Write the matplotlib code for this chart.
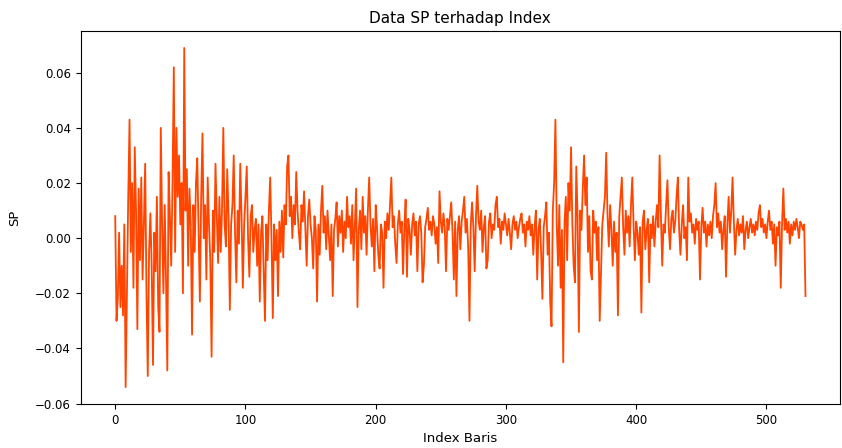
import numpy as np
import matplotlib
matplotlib.use("Agg")
import matplotlib.pyplot as plt

# Nilai SP per baris (dalam satuan 1e-3), dikelompokkan per blok indeks
sp_000_079 = [8, -30, -22, 2, -25, -10, -28, 5, -54, -20,
              15, 43, -5, 20, -18, 33, 10, -33, 18, -8,
              22, -15, 5, 27, -20, -50, -5, 9, -10, -46,
              2, -12, 15, -25, -34, 40, 5, -20, 12, -15,
              -48, 24, 8, -10, 20, 62, -5, 40, 15, 30,
              5, 20, -20, 69, 10, 25, -10, 18, 5, -35,
              12, -5, 20, 29, 2, -23, 15, 38, 0, 12,
              -15, 22, 5, -8, -43, 10, -5, 27, 8, -9]
sp_080_179 = [15, -5, 10, 40, 5, -3, 25, 8, -26, 5,
              12, 30, 2, -16, 10, -2, 27, 8, -18, 5,
              15, 26, 0, -14, 8, 12, -5, 3, 7, -10,
              5, -23, 2, 8, -12, -30, 5, -8, 10, 22,
              0, -29, 5, -8, 3, -21, 6, -5, 10, -7,
              12, 5, 26, 30, 8, 15, 0, 12, 5, 24,
              10, 2, -4, 12, 6, 17, 3, -10, 8, 14,
              5, 0, -11, 8, 3, -23, 5, -6, 10, 19,
              2, 8, -4, 10, 1, -8, 5, -21, 3, 7,
              13, -3, 8, 2, 10, -5, 6, 0, 15, 4]
sp_180_289 = [8, -2, 12, -8, 5, 18, -25, 3, 10, -4,
              15, 2, 8, -6, 10, 22, 5, -3, 7, -12,
              12, 4, -6, -11, 5, 2, -18, 6, 0, 9,
              3, 12, 22, 4, 8, -2, -9, 5, 10, 2,
              6, -13, 4, 14, -14, 7, 3, -6, 5, 9,
              1, 6, -12, 5, 8, 2, -16, -10, 4, 7,
              11, 3, 6, 1, 8, 5, -2, 4, -9, 17,
              6, 2, 9, 4, -12, 7, 3, 8, 13, 2,
              -15, 6, -21, 3, 8, -4, 6, 10, 15, 2,
              7, -3, -30, 5, 13, 4, -12, 8, 19, 6,
              3, 10, -5, 4, 8, -11, -8, 6, 9, 0]
sp_290_379 = [5, 3, 12, 15, 4, 7, -2, 6, 3, 9,
              5, 1, 7, 2, -4, 5, 8, 3, 6, 0,
              4, 7, 9, 2, 5, -3, 6, 3, 8, 1,
              5, -6, 4, 10, -15, 3, 7, -5, -22, 4,
              8, 13, -6, 2, -23, -32, 10, 20, 43, 5,
              -10, 12, -18, 3, -45, 6, 15, -8, 20, 10,
              33, 5, -10, -16, 26, 8, -34, 10, 3, 18,
              30, 12, 22, -5, 8, -12, -15, 10, 2, 6,
              -8, 4, -30, -12, 5, 10, 15, 31, 8, -3]
sp_380_479 = [12, 3, -10, 6, -5, 2, -28, 8, 15, 22,
              4, -6, 10, 2, 8, -3, 12, 22, 5, -8,
              6, 2, -6, 4, -27, 6, 10, -4, 3, 7,
              -16, 5, 0, 8, -3, 6, 12, 4, 30, 8,
              -10, 5, 2, 12, 21, 4, -4, 7, 10, 2,
              6, 15, 22, 3, -6, 5, 12, 0, 4, -8,
              22, 6, 9, 2, 5, -2, 7, 3, 6, -15,
              4, 11, 2, 6, -3, 5, 1, 6, 0, 8,
              12, 20, 4, 9, 2, 6, -4, 3, 8, -14,
              5, 15, 2, 10, 22, 6, -6, 3, 7, 1]
sp_480_530 = [5, 2, 8, -4, 3, 6, 0, 4, 7, 2,
              5, 1, 6, 3, 9, 12, 4, 7, 2, 5,
              0, 6, 10, 3, 6, -2, 5, -10, 4, 1,
              6, -18, 5, 18, 3, 7, 2, 6, -2, 5,
              1, 6, 3, 7, 4, 0, 6, 5, 3, 5,
              -21]

sp = np.array(sp_000_079 + sp_080_179 + sp_180_289 + sp_290_379
              + sp_380_479 + sp_480_530) / 1000.0
idx = np.arange(len(sp))

fig = plt.figure(figsize=(8.42, 4.48), dpi=100)
ax = fig.add_axes([80.7 / 842, 44 / 448, 759.3 / 842, 373 / 448])
ax.plot(idx, sp, color="orangered", linewidth=1.3)
ax.set_title("Data SP terhadap Index", fontsize=11)
ax.set_xlabel("Index Baris", fontsize=9.5)
ax.set_ylabel("SP", fontsize=9.5, labelpad=10)
ax.tick_params(labelsize=8.5)
plt.savefig("out.png", dpi=100)
